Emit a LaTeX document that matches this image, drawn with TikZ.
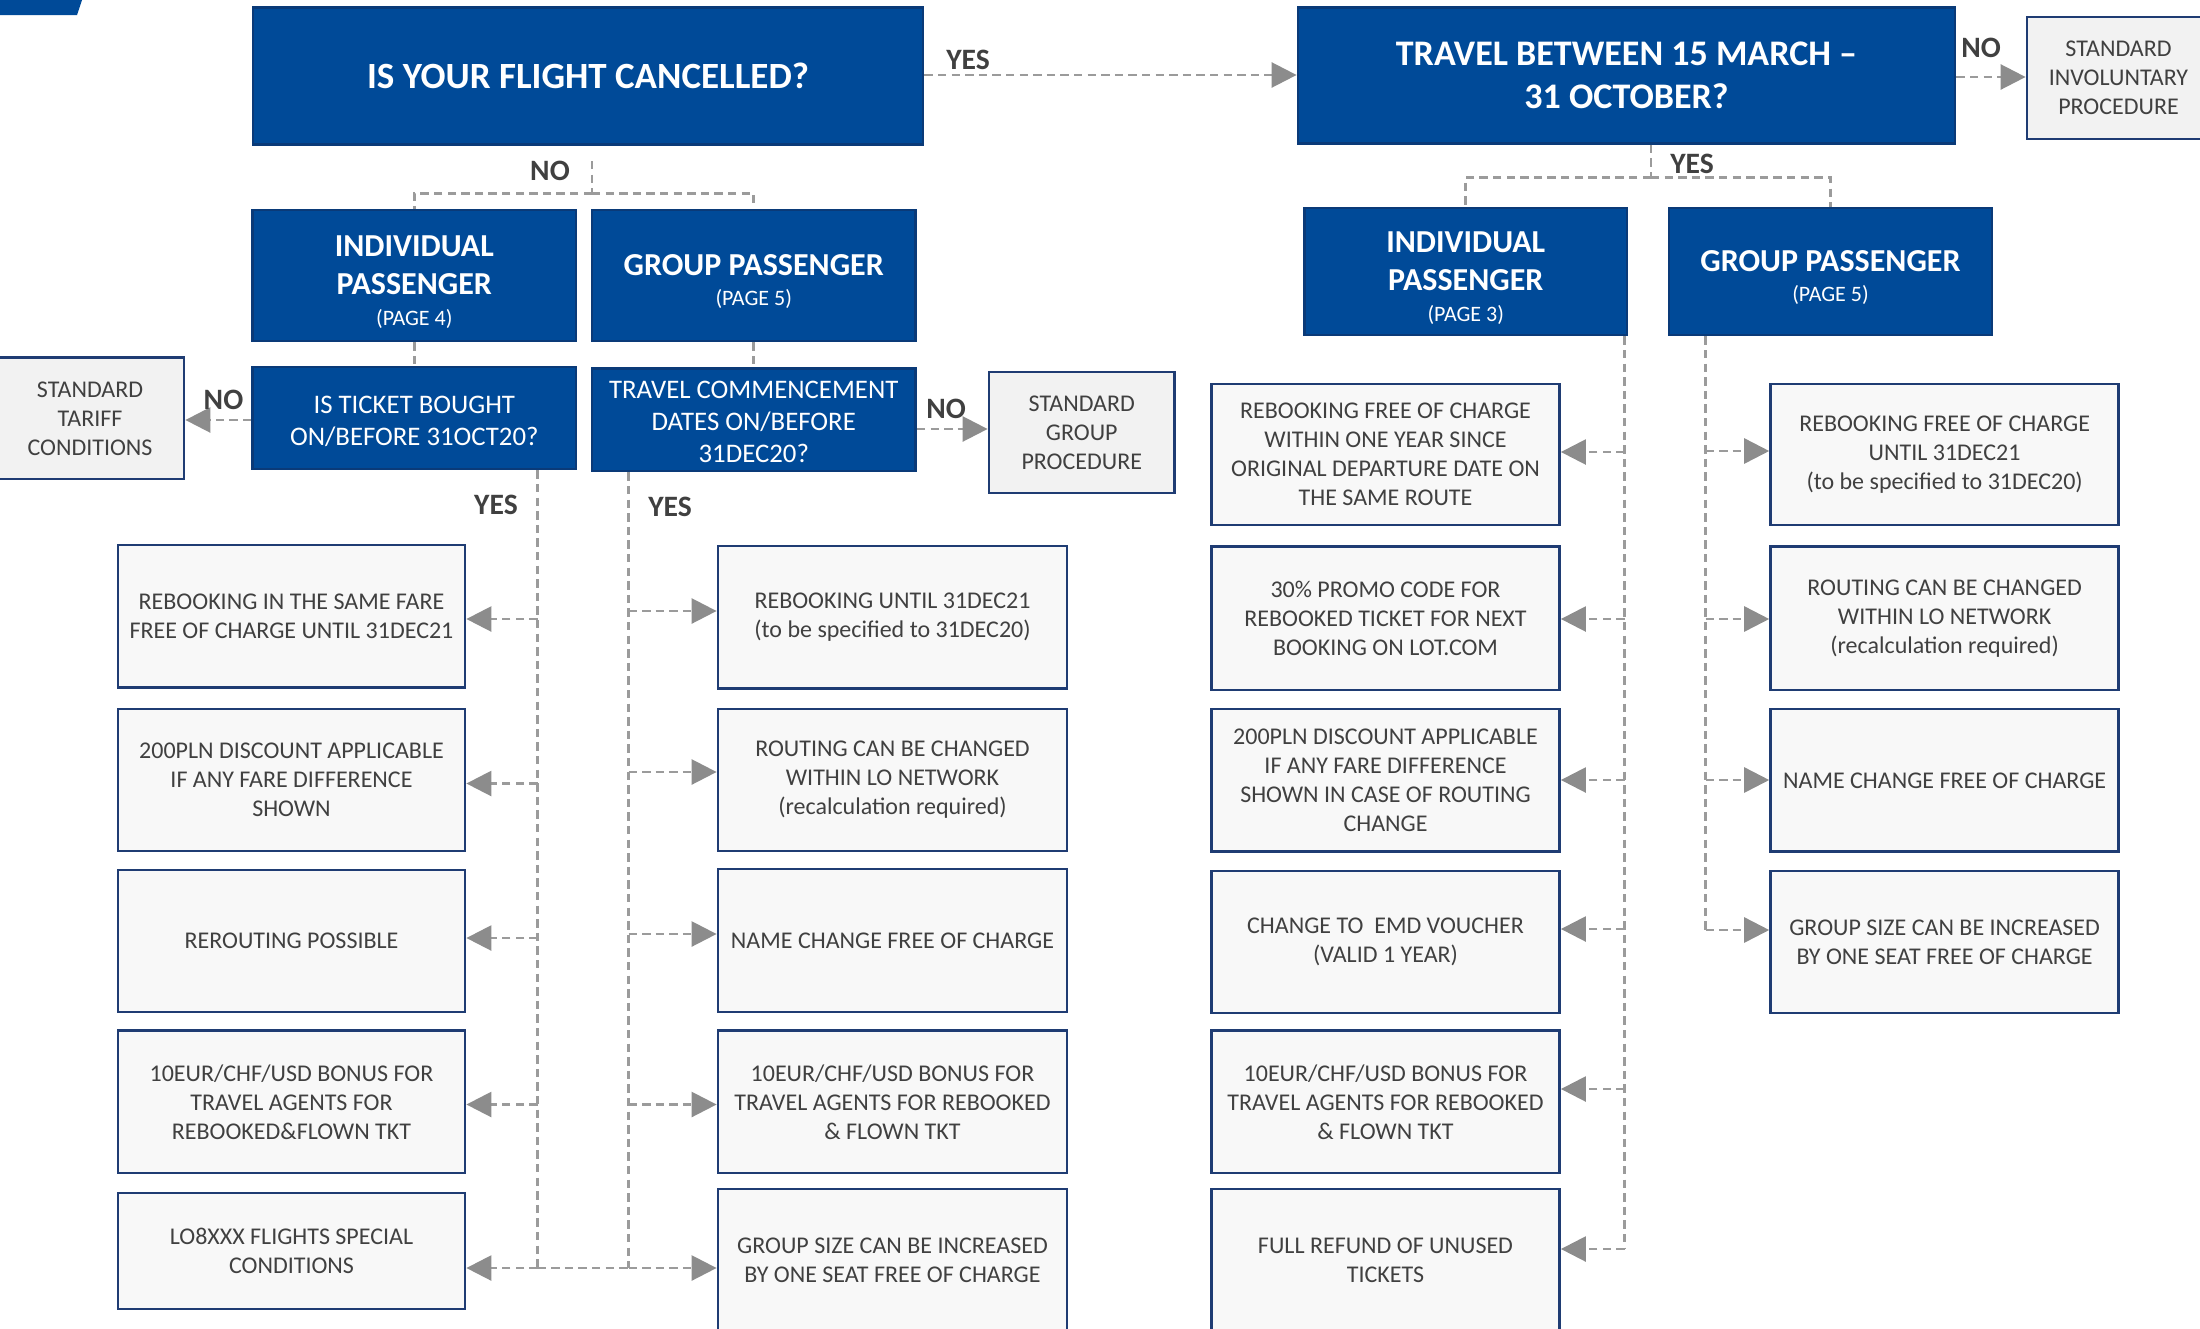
\documentclass[tikz,border=0pt]{standalone}
\usepackage{fontspec}
\setmainfont{Carlito}
\usetikzlibrary{arrows.meta}
\definecolor{lotblue}{RGB}{0,74,152}
\definecolor{hdrborder}{RGB}{10,58,120}
\definecolor{navy}{RGB}{31,60,115}
\definecolor{boxfill}{RGB}{248,248,248}
\definecolor{stdfill}{RGB}{242,242,242}
\definecolor{txtgray}{RGB}{64,64,64}
\definecolor{lblgray}{RGB}{64,64,64}
\definecolor{lgray}{RGB}{155,155,155}
\definecolor{agray}{RGB}{140,140,140}
\tikzset{
  hdr/.style={draw=hdrborder, line width=1.4pt, fill=lotblue, text=white, align=center, inner sep=0pt},
  htxt/.style={text=white, align=center, inner sep=0pt},
  lbox/.style={draw=navy, line width=1.4pt, fill=boxfill, text=txtgray, align=center, inner sep=0pt, font=\fontsize{12}{14.5}\selectfont},
  sbox/.style={lbox, fill=stdfill, font=\fontsize{12}{14.5}\selectfont},
  conn/.style={draw=lgray, line width=1.3pt, dash pattern=on 4.2pt off 2.6pt},
  arr/.style={conn, -{Triangle[length=12.5pt,width=12.5pt,color=agray]}},
  lbl/.style={font=\fontsize{14.8}{14.8}\selectfont\bfseries, text=lblgray, inner sep=0pt},
  colL/.style={lbox, minimum width=173.5pt},
  colM/.style={lbox, minimum width=174.5pt},
  colR/.style={lbox, minimum width=174pt},
  pfont/.style={font=\fontsize{16}{19}\selectfont\bfseries},
}
\newcommand\pg[1]{{\fontsize{11}{12}\selectfont\mdseries (PAGE #1)}}
\begin{document}
\begin{tikzpicture}[x=0.5pt,y=-0.5pt]
\useasboundingbox (0,0) rectangle (2200,1328);
\clip (0,0) rectangle (2200,1328);
\fill[lotblue] (0,0) -- (82,0) -- (77,15) -- (0,15) -- cycle;

% top level
\node[hdr, minimum width=335pt, minimum height=68.5pt, font=\fontsize{18.5}{21}\selectfont\bfseries] (Q1) at (588,76) {IS YOUR FLIGHT CANCELLED?};
\node[hdr, minimum width=328.5pt, minimum height=68pt, font=\fontsize{18}{21.5}\selectfont\bfseries] (Q2) at (1626.5,75.4) {TRAVEL BETWEEN 15 MARCH --\\31 OCTOBER?};
\node[sbox, minimum width=91.5pt, minimum height=61pt] (SI) at (2118.5,78) {STANDARD\\INVOLUNTARY\\PROCEDURE};

% left tree
\node[hdr, minimum width=161.7pt, minimum height=65.5pt] (IL) at (414.3,275.5) {};
\node[htxt, pfont] (ILt) at ([yshift=-3.25pt]IL.center) {INDIVIDUAL\\PASSENGER\\[-3.5pt]\pg{4}};
\node[hdr, minimum width=161.75pt, minimum height=65.5pt] (GL) at (753.75,275.5) {};
\node[htxt, pfont] (GLt) at ([yshift=-2.8pt]GL.center) {GROUP PASSENGER\\[-4pt]\pg{5}};
\node[sbox, minimum width=94pt, minimum height=60.7pt] (ST) at (90,418.3) {STANDARD\\TARIFF\\CONDITIONS};
\node[hdr, minimum width=161.7pt, minimum height=51pt] (IT) at (414.3,418) {};
\node[htxt, font=\fontsize{13.4}{15.8}\selectfont] (ITt) at ([yshift=-1.6pt]IT.center) {IS TICKET BOUGHT\\ON/BEFORE 31OCT20?};
\node[hdr, minimum width=161.75pt, minimum height=51.25pt] (TC) at (753.75,419.75) {};
\node[htxt, font=\fontsize{13.4}{16}\selectfont] (TCt) at ([yshift=-1.1pt]TC.center) {TRAVEL COMMENCEMENT\\DATES ON/BEFORE\\31DEC20?};
\node[sbox, minimum width=92.75pt, minimum height=60.5pt] (SG) at (1081.75,432.5) {STANDARD\\GROUP\\PROCEDURE};

% right tree headers
\node[hdr, minimum width=161.25pt, minimum height=63.5pt] (IR) at (1465.75,271.5) {};
\node[htxt, pfont] (IRt) at ([yshift=-3.2pt]IR.center) {INDIVIDUAL\\PASSENGER\\[-3.5pt]\pg{3}};
\node[hdr, minimum width=161.5pt, minimum height=63.5pt] (GR) at (1830.5,271.5) {};
\node[htxt, pfont] (GRt) at ([yshift=-2.8pt]GR.center) {GROUP PASSENGER\\[-4pt]\pg{5}};

% left column
\node[colL, minimum height=71.25pt] (L1) at (291.5,616.25) {REBOOKING IN THE SAME FARE\\FREE OF CHARGE UNTIL 31DEC21};
\node[colL, minimum height=71pt] (L2) at (291.5,780) {200PLN DISCOUNT APPLICABLE\\IF ANY FARE DIFFERENCE\\SHOWN};
\node[colL, minimum height=71pt] (L3) at (291.5,941) {REROUTING POSSIBLE};
\node[colL, minimum height=71.2pt] (L4) at (291.5,1101.8) {10EUR/CHF/USD BONUS FOR\\TRAVEL AGENTS FOR\\REBOOKED\&FLOWN TKT};
\node[colL, minimum height=58pt] (L5) at (291.5,1251) {LO8XXX FLIGHTS SPECIAL\\CONDITIONS};

% middle column
\node[colM, minimum height=71.25pt] (M1) at (892.5,617.25) {REBOOKING UNTIL 31DEC21\\(to be specified to 31DEC20)};
\node[colM, minimum height=71pt] (M2) at (892.5,780) {ROUTING CAN BE CHANGED\\WITHIN LO NETWORK\\(recalculation required)};
\node[colM, minimum height=71.5pt] (M3) at (892.5,940.5) {NAME CHANGE FREE OF CHARGE};
\node[colM, minimum height=71.2pt] (M4) at (892.5,1101.8) {10EUR/CHF/USD BONUS FOR\\TRAVEL AGENTS FOR REBOOKED\\\& FLOWN TKT};
\node[colM, minimum height=71pt] (M5) at (892.5,1260) {GROUP SIZE CAN BE INCREASED\\BY ONE SEAT FREE OF CHARGE};

% right-left column
\node[colR, minimum height=70.5pt] (R1) at (1385.5,454.5) {REBOOKING FREE OF CHARGE\\WITHIN ONE YEAR SINCE\\ORIGINAL DEPARTURE DATE ON\\THE SAME ROUTE};
\node[colR, minimum height=71.75pt] (R2) at (1385.5,618.25) {30\% PROMO CODE FOR\\REBOOKED TICKET FOR NEXT\\BOOKING ON LOT.COM};
\node[colR, minimum height=71.3pt] (R3) at (1385.5,780.3) {200PLN DISCOUNT APPLICABLE\\IF ANY FARE DIFFERENCE\\SHOWN IN CASE OF ROUTING\\CHANGE};
\node[colR, minimum height=71pt] (R4) at (1385.5,942) {CHANGE TO\ \ EMD VOUCHER\\(VALID 1 YEAR)};
\node[colR, minimum height=71.2pt] (R5) at (1385.5,1101.8) {10EUR/CHF/USD BONUS FOR\\TRAVEL AGENTS FOR REBOOKED\\\& FLOWN TKT};
\node[colR, minimum height=71pt] (R6) at (1385.5,1260) {FULL REFUND OF UNUSED\\TICKETS};

% right-right column
\node[colR, minimum height=70.5pt] (G1) at (1944.6,454.5) {REBOOKING FREE OF CHARGE\\UNTIL 31DEC21\\(to be specified to 31DEC20)};
\node[colR, minimum height=71.75pt] (G2) at (1944.6,618.25) {ROUTING CAN BE CHANGED\\WITHIN LO NETWORK\\(recalculation required)};
\node[colR, minimum height=71.3pt] (G3) at (1944.6,780.3) {NAME CHANGE FREE OF CHARGE};
\node[colR, minimum height=71pt] (G4) at (1944.6,942) {GROUP SIZE CAN BE INCREASED\\BY ONE SEAT FREE OF CHARGE};

% top connectors
\coordinate (a1) at (923,75);
\draw[arr] (Q1.east |- a1) -- (Q2.west |- a1);
\node[lbl] (yes1) at (968,60) {YES};
\coordinate (a2) at (1955,77);
\draw[arr] (Q2.east |- a2) -- (SI.west |- a2);
\node[lbl] (no1) at (1981,48) {NO};

\coordinate (j1) at (592,193.6);
\coordinate (j1t) at (592,161);
\draw[conn] (j1t) -- (j1);
\draw[conn] (j1) -| (IL.north);
\draw[conn] (j1) -| (GL.north);
\node[lbl] (no2) at (550,171) {NO};
\draw[conn] (IL.south) -- (IT.north);
\draw[conn] (GL.south) -- (TC.north);

\coordinate (a3) at (250,420);
\draw[arr] (IT.west |- a3) -- (ST.east |- a3);
\node[lbl] (no3) at (223.5,400) {NO};
\coordinate (a4) at (915,429);
\draw[arr] (TC.east |- a4) -- (SG.west |- a4);
\node[lbl] (no4) at (946,408.5) {NO};

\coordinate (j2) at (1651,177.6);
\draw[conn] (Q2.south -| j2) -- (j2);
\draw[conn] (j2) -| (IR.north);
\draw[conn] (j2) -| (GR.north);
\node[lbl] (yes2) at (1692,164) {YES};

% left spine
\coordinate (sA) at (537.6,1268);
\draw[conn] (IT.south -| sA) -- (sA);
\node[lbl] (yes3) at (496,505) {YES};
\foreach \n/\yy in {L1/619, L2/783.5, L3/938, L4/1104.5, L5/1268}{
  \coordinate (t) at (537.6,\yy);
  \draw[arr] (t) -- (t -| \n.east);
}
% middle spine
\coordinate (sB) at (628.5,1268);
\draw[conn] (TC.south -| sB) -- (sB);
\draw[conn] (sA) -- (sB);
\node[lbl] (yes4) at (670,507) {YES};
\foreach \n/\yy in {M1/611, M2/772, M3/934, M4/1104.5, M5/1268}{
  \coordinate (t) at (628.5,\yy);
  \draw[arr] (t) -- (t -| \n.west);
}
% right-left spine
\coordinate (sC) at (1624.5,1249);
\draw[conn] (IR.south -| sC) -- (sC);
\foreach \n/\yy in {R1/452, R2/619, R3/780, R4/929, R5/1089, R6/1249}{
  \coordinate (t) at (1624.5,\yy);
  \draw[arr] (t) -- (t -| \n.east);
}
% right-right spine
\coordinate (sD) at (1705.5,930);
\draw[conn] (GR.south -| sD) -- (sD);
\foreach \n/\yy in {G1/451, G2/619, G3/780, G4/930}{
  \coordinate (t) at (1705.5,\yy);
  \draw[arr] (t) -- (t -| \n.west);
}
\end{tikzpicture}
\end{document}
